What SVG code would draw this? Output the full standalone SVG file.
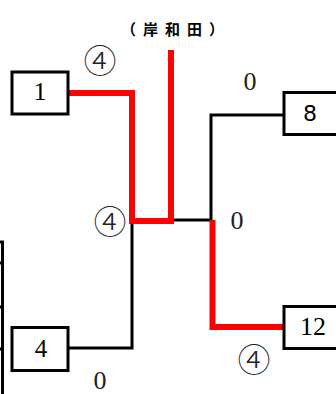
<svg xmlns="http://www.w3.org/2000/svg" width="336" height="394" viewBox="0 0 336 394">
<style>
.box{fill:#fff;stroke:#000;stroke-width:3}
.num{font-family:"Liberation Serif","Noto Serif CJK JP",serif;font-size:26px;text-anchor:middle;fill:#000}
.sc{font-family:"Liberation Serif",serif;font-size:26px;text-anchor:middle;fill:#222}
.circ{font-family:"Noto Sans CJK JP",sans-serif;font-size:33px;font-weight:300;text-anchor:middle;fill:#222}
.blk{fill:none;stroke:#000;stroke-width:3}
.red{fill:none;stroke:#f00;stroke-width:6}
</style>
<rect width="336" height="394" fill="#fff"/>
<text x="176" y="35" style="font-family:'Noto Sans CJK JP',sans-serif;font-size:15px;font-weight:bold;letter-spacing:7px" text-anchor="middle">（岸和田）</text>
<g id="connectors">
<polyline class="blk" points="68,348 132,348 132,222"/>
<polyline class="blk" points="173,220 212,220"/>
<polyline class="blk" points="283,115 211,115 211,220"/>
<polyline class="red" points="68,93 132,93 132,221 171,221 171,50"/>
<polyline class="red" points="212.5,220 212.5,327 283,327"/>
<path class="blk" d="M2.5,241 V394 M0,242 H4 M0,263 H4 M0,307 H4 M0,349 H4" stroke-width="2.5"/>
</g>
<g id="n1"><rect class="box" x="12" y="72" width="56" height="42"/><text class="num" x="40" y="100">1</text></g>
<g id="n8"><rect class="box" x="284" y="92.5" width="56" height="42"/><text x="310" y="121" style="font-family:'DejaVu Sans',sans-serif;font-size:22px" text-anchor="middle">8</text></g>
<g id="n12"><rect class="box" x="284" y="306.5" width="56" height="42"/><text class="num" x="313" y="335">12</text></g>
<g id="n4"><rect class="box" x="12" y="327.5" width="56" height="43"/><text class="num" x="41" y="357" style="font-size:25px">4</text></g>
<g id="labels">
<text class="circ" x="100" y="73">④</text>
<text class="sc" x="250" y="90">0</text>
<text class="circ" x="110" y="234">④</text>
<text class="sc" x="237" y="229">0</text>
<text class="circ" x="254" y="372">④</text>
<text class="sc" x="100" y="389">0</text>
</g>
</svg>
